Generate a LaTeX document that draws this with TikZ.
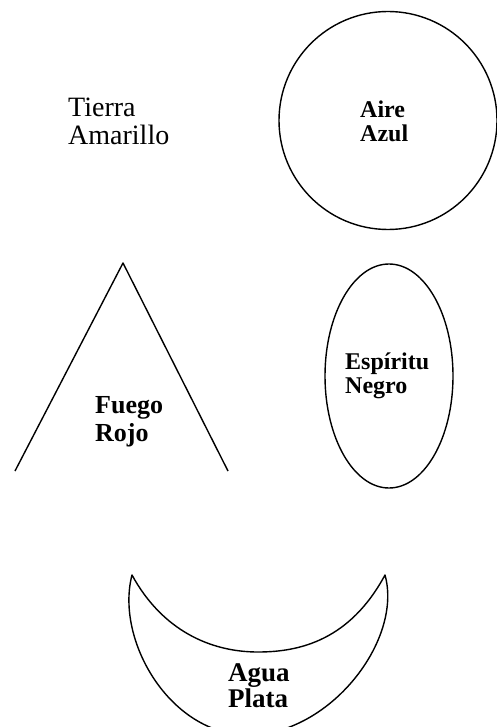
\documentclass[tikz,border=0pt]{standalone}
\usepackage{fontspec}
\setmainfont{Liberation Serif}
\begin{document}
\begin{tikzpicture}[x=1pt,y=-1pt,
  shape line/.style={draw=black,line width=1.4pt,line join=round},
  plain label/.style={inner sep=0pt,anchor=base west,font=\fontsize{28}{28}\selectfont},
  bold label/.style={inner sep=0pt,anchor=base west,font=\bfseries\fontsize{#1}{#1}\selectfont}]
\useasboundingbox (0,0) rectangle (497,727);
\begin{scope}
\clip (0,0) rectangle (497,727);
% Aire circle
\draw[shape line] (388,120.5) circle [radius=109];
% Fuego triangle (open base)
\coordinate (tl) at (15,471);
\coordinate (tt) at (123,263);
\coordinate (tr) at (228,471);
\draw[shape line] (tl) -- (tt) -- (tr);
% Espiritu ellipse
\draw[shape line] (389,376) ellipse [x radius=64, y radius=112];
% Agua crescent
\coordinate (cl) at (132,575);
\coordinate (cr) at (385,575);
\draw[shape line] (cl) .. controls (115,640) and (170,735) .. (248,735)
  .. controls (330,735) and (403,640) .. (cr)
  .. controls (350,640) and (300,652) .. (258,652)
  .. controls (210,652) and (162,630) .. (cl) -- cycle;
\end{scope}
% labels
\node[plain label] (tierra) at (68,117) {Tierra};
\node[plain label] (amarillo) at (68,145) {Amarillo};
\node[bold label=24] (aire) at (360,118) {Aire};
\node[bold label=24] (azul) at (360,142) {Azul};
\node[bold label=26] (fuego) at (95,413) {Fuego};
\node[bold label=26] (rojo) at (95,441) {Rojo};
\node[bold label=24] (espiritu) at (345,369) {Espíritu};
\node[bold label=24] (negro) at (345,393) {Negro};
\node[bold label=27] (agua) at (228,681) {Agua};
\node[bold label=27] (plata) at (228,707) {Plata};
\end{tikzpicture}
\end{document}
